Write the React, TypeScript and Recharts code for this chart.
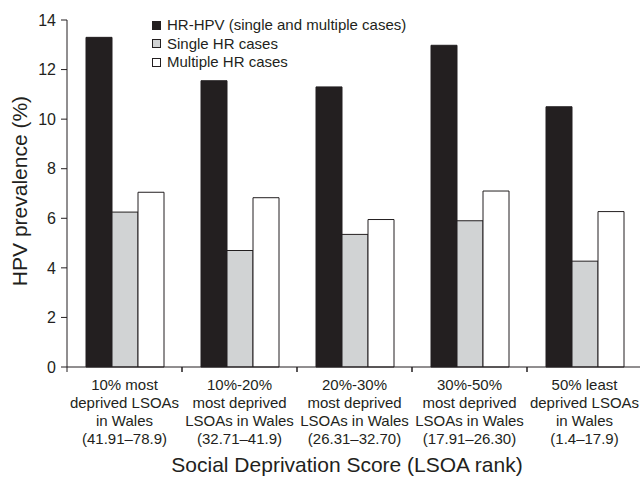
import { JSX } from 'react'
import { BarChart, Bar, XAxis, YAxis, Legend } from 'recharts'

// Category labels (one line per entry)
const categoryLines = [
  ['10% most', 'deprived LSOAs', 'in Wales', '(41.91–78.9)'],
  ['10%-20%', 'most deprived', 'LSOAs in Wales', '(32.71–41.9)'],
  ['20%-30%', 'most deprived', 'LSOAs in Wales', '(26.31–32.70)'],
  ['30%-50%', 'most deprived', 'LSOAs in Wales', '(17.91–26.30)'],
  ['50% least', 'deprived LSOAs', 'in Wales', '(1.4–17.9)']
]

// Series values (%)
const hrHpv = [13.3, 11.55, 11.3, 12.98, 10.5]
const singleHr = [6.25, 4.7, 5.35, 5.9, 4.27]
const multipleHr = [7.05, 6.83, 5.95, 7.1, 6.27]

const yTicks = [0, 2, 4, 6, 8, 10, 12, 14]

const seriesInfo = [
  { key: 'hrHpv', name: 'HR-HPV (single and multiple cases)', color: '#231f20' },
  { key: 'singleHr', name: 'Single HR cases', color: '#d1d3d4' },
  { key: 'multipleHr', name: 'Multiple HR cases', color: '#ffffff' }
]

const data = categoryLines.map((lines, i) => ({
  name: lines.join('|'),
  hrHpv: hrHpv[i],
  singleHr: singleHr[i],
  multipleHr: multipleHr[i]
}))

const INK = '#231f20'
const FONT = '"Liberation Sans", Arial, Helvetica, sans-serif'
const BAND = 115

function CategoryTick({ x, y, payload }: any): JSX.Element {
  const lines = String(payload.value).split('|')
  return (
    <g>
      <line x1={x - BAND / 2} x2={x - BAND / 2} y1={y} y2={y + 5} stroke={INK} />
      <line x1={x + BAND / 2} x2={x + BAND / 2} y1={y} y2={y + 5} stroke={INK} />
      {lines.map((line, i) => (
        <text
          key={i}
          x={x}
          y={y + 23 + i * 18}
          textAnchor="middle"
          fontSize={15}
          fontFamily={FONT}
          fill={INK}
        >
          {line}
        </text>
      ))}
    </g>
  )
}

function LegendBox(): JSX.Element {
  return (
    <div style={{ fontFamily: FONT, fontSize: 15, color: INK, lineHeight: '18.5px' }}>
      {seriesInfo.map((s) => (
        <div key={s.key} style={{ display: 'flex', alignItems: 'center' }}>
          <span
            style={{
              width: 7,
              height: 7,
              background: s.color,
              border: `1px solid ${INK}`,
              marginRight: 6,
              display: 'inline-block'
            }}
          ></span>
          <span>{s.name}</span>
        </div>
      ))}
    </div>
  )
}

export default function App(): JSX.Element {
  return (
    <div
      style={{
        position: 'absolute',
        left: 0,
        top: 0,
        width: 640,
        height: 477,
        overflow: 'hidden',
        background: '#fff'
      }}
    >
      <BarChart
        width={645}
        height={477}
        data={data}
        margin={{ top: 20, right: 3, left: 0, bottom: 0 }}
        barGap={0}
      >
        <XAxis
          dataKey="name"
          interval={0}
          height={110}
          tickLine={false}
          tickSize={0}
          tickMargin={0}
          axisLine={{ stroke: INK }}
          tick={<CategoryTick />}
          label={{
            content: () => (
              <text
                x={347}
                y={472}
                textAnchor="middle"
                fontSize={21}
                fontFamily={FONT}
                fill={INK}
              >
                Social Deprivation Score (LSOA rank)
              </text>
            )
          }}
        />
        <YAxis
          width={67}
          domain={[0, 14]}
          ticks={yTicks}
          interval={0}
          tickSize={6}
          tickMargin={5}
          tickLine={{ stroke: INK }}
          axisLine={{ stroke: INK }}
          tick={{ fontSize: 16, fill: INK, fontFamily: FONT }}
          label={{
            content: () => (
              <text
                transform="translate(27,191) rotate(-90)"
                textAnchor="middle"
                fontSize={21}
                fontFamily={FONT}
                fill={INK}
              >
                HPV prevalence (%)
              </text>
            )
          }}
        />
        <Legend
          layout="horizontal"
          verticalAlign="middle"
          align="center"
          content={<LegendBox />}
          wrapperStyle={{ top: 16, left: 152, width: 'auto', height: 'auto' }}
        />
        {seriesInfo.map((s) => (
          <Bar
            key={s.key}
            dataKey={s.key}
            name={s.name}
            fill={s.color}
            stroke={INK}
            strokeWidth={1}
            barSize={26}
            isAnimationActive={false}
          />
        ))}
      </BarChart>
    </div>
  )
}
